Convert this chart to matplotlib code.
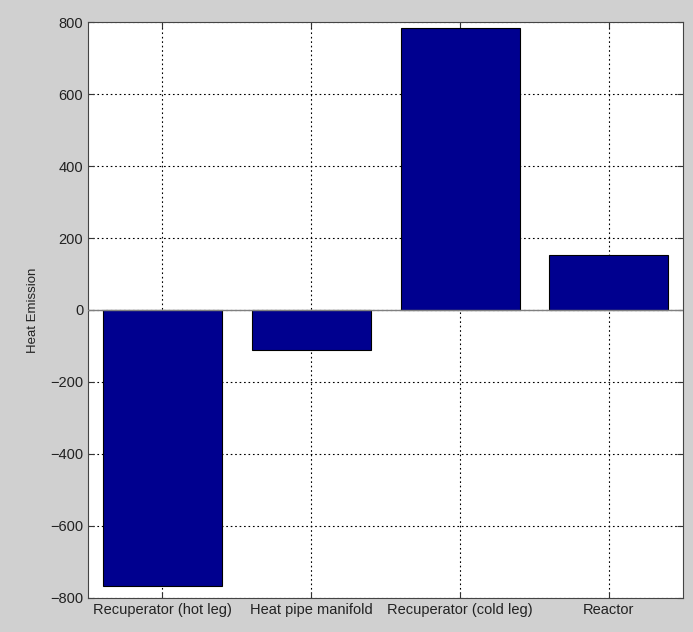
import numpy as np
import matplotlib.pyplot as plt

plt.rcParams['font.family'] = ['Liberation Sans', 'DejaVu Sans']

# bar chart data
components = ['Recuperator (hot leg)', 'Heat pipe manifold', 'Recuperator (cold leg)', 'Reactor']
heat_emission = [-768, -110, 785, 152]
y_ticks = [-800, -600, -400, -200, 0, 200, 400, 600, 800]

fig = plt.figure(figsize=(6.93, 6.32), dpi=100, facecolor='#d0d0d0')
ax = fig.add_axes([0.127, 0.054, 0.859, 0.911])

x = np.arange(1, len(components) + 1)
ax.bar(x, heat_emission, width=0.8, color='#00008f', edgecolor='black', linewidth=0.8, zorder=3)
ax.axhline(0, color='#808080', linewidth=1.0, zorder=4)

ax.set_xlim(0.5, 4.5)
ax.set_ylim(-800, 800)
ax.set_xticks(x)
ax.set_xticklabels(components, fontsize=10.5)
ax.set_yticks(y_ticks)
ax.tick_params(axis='y', labelsize=10.5)
ax.tick_params(direction='in', top=True, right=True, length=4, colors='#333333', labelcolor='#222222')
ax.set_ylabel('Heat Emission', fontsize=9.5, color='#222222', labelpad=8)

ax.grid(True, color='black', linestyle=(0, (1.5, 2.5)), linewidth=0.8, zorder=1)
for s in ax.spines.values():
    s.set_color('#444444')

fig.savefig('out.png', dpi=100, facecolor=fig.get_facecolor())
